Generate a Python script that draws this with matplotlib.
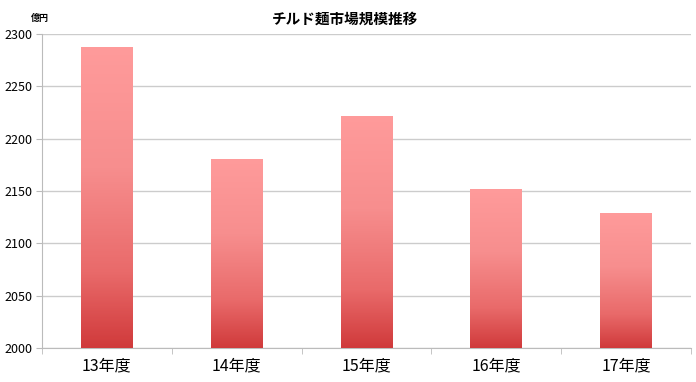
import matplotlib
matplotlib.use('Agg')
import matplotlib.pyplot as plt
import numpy as np
from matplotlib.colors import LinearSegmentedColormap

plt.rcParams['font.family'] = ['Noto Sans CJK JP', 'DejaVu Sans']

years = ['13年度', '14年度', '15年度', '16年度', '17年度']
market = [2288, 2181, 2222, 2152, 2129]
yticks = [2000, 2050, 2100, 2150, 2200, 2250, 2300]

fig = plt.figure(figsize=(6.96, 3.82), dpi=100)
ax = fig.add_axes([0.0603, 0.089, 0.9325, 0.822])

x = np.arange(len(years))
bars = ax.bar(x, market, width=0.4, color='none', zorder=3)

# gradient fill per bar, light pink at the top to red at the base
cmap = LinearSegmentedColormap.from_list(
    'pinkred', [(0, '#ff9b9b'), (0.4, '#f78e8e'), (0.75, '#e96a6a'), (1, '#d03a3b')])
grad = cmap(np.linspace(0, 1, 1024)).reshape(-1, 1, 4)
for b in bars:
    x0, w = b.get_x(), b.get_width()
    top = b.get_height()
    im = ax.imshow(grad, aspect='auto', extent=(x0, x0 + w, 2000, top),
                   origin='upper', interpolation='nearest', zorder=3)
    im.set_clip_path(b)

ax.set_xlim(-0.5, len(years) - 0.5)
ax.set_ylim(2000, 2300)
ax.set_yticks(yticks)
ax.set_yticklabels([str(v) for v in yticks], fontsize=9)
ax.set_xticks(x)
ax.set_xticklabels(years, fontsize=11.5)
ax.set_xticks(np.arange(-0.5, len(years)), minor=True)
ax.tick_params(axis='x', which='major', length=0, pad=7)
ax.tick_params(axis='x', which='minor', length=4, color='#bbbbbb')
ax.tick_params(axis='y', length=4, color='#bbbbbb', pad=3)

ax.grid(axis='y', color='#cccccc', linewidth=1, zorder=0)
for s in ['top', 'right']:
    ax.spines[s].set_visible(False)
for s in ['left', 'bottom']:
    ax.spines[s].set_color('#bbbbbb')

fig.text(0.496, 0.952, 'チルド麺市場規模推移', ha='center', va='center', fontsize=10.5, fontweight='bold')
fig.text(0.058, 0.952, '億円', ha='center', va='center', fontsize=6.5, fontweight='bold')

fig.savefig('out.png', dpi=100)
